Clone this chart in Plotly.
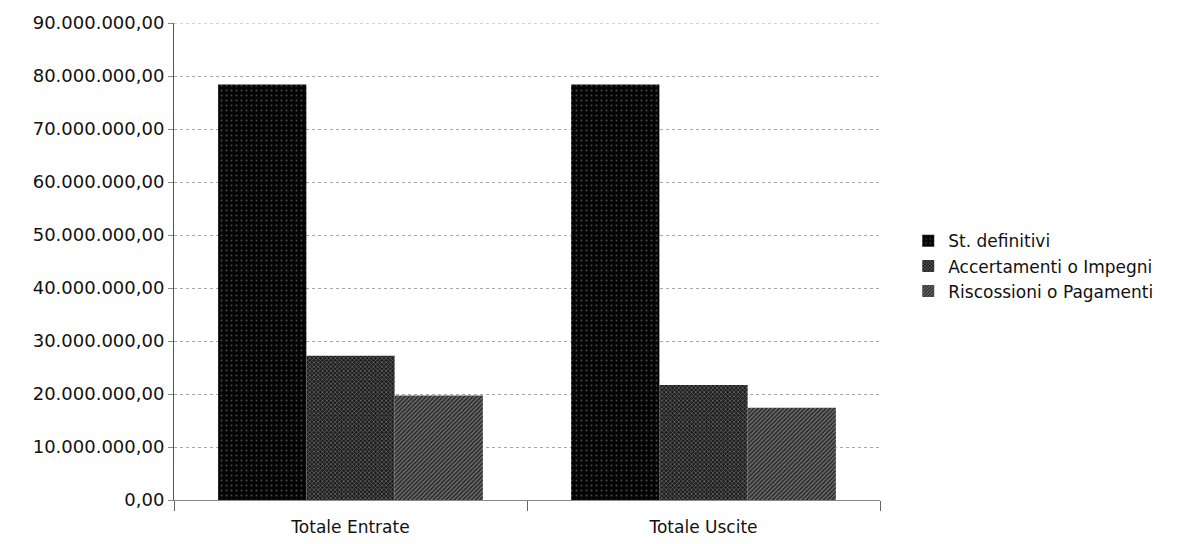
import plotly.graph_objects as go

categories = ["Totale Entrate", "Totale Uscite"]
series_names = ["St. definitivi", "Accertamenti o Impegni", "Riscossioni o Pagamenti"]
st_definitivi = [78_400_000, 78_400_000]
accertamenti_impegni = [27_200_000, 21_700_000]
riscossioni_pagamenti = [19_700_000, 17_400_000]
y_ticks = [0, 10_000_000, 20_000_000, 30_000_000, 40_000_000,
           50_000_000, 60_000_000, 70_000_000, 80_000_000, 90_000_000]

font_family = "DejaVu Sans"
grid_color = "#a8a8a8"

styles = [
    dict(color="#050505", pattern=dict(shape=".", fgcolor="#8a8a8a", bgcolor="#050505",
                                       size=5, solidity=0.12)),
    dict(color="#3a3a3a", pattern=dict(shape="x", fgcolor="#b0b0b0", bgcolor="#1c1c1c",
                                       size=3, solidity=0.45)),
    dict(color="#444444", pattern=dict(shape="/", fgcolor="#b8b8b8", bgcolor="#262626",
                                       size=3, solidity=0.5)),
]

fig = go.Figure()
for name, values, style in zip(series_names,
                               [st_definitivi, accertamenti_impegni, riscossioni_pagamenti],
                               styles):
    fig.add_trace(go.Bar(
        x=categories, y=values, name=name,
        marker=dict(color=style["color"], pattern=style["pattern"], line=dict(width=0)),
        hoverinfo="skip",
    ))

# top gridline sits on the plot edge, so draw it explicitly
fig.add_shape(type="line", xref="paper", x0=0, x1=1, yref="y",
              y0=y_ticks[-1], y1=y_ticks[-1],
              line=dict(color=grid_color, width=1, dash="dot"), layer="below")

fig.update_layout(
    width=1197, height=544,
    margin=dict(l=174, r=317, t=23, b=44),
    paper_bgcolor="white", plot_bgcolor="white",
    separators=",.",
    barmode="group", bargap=0.25, bargroupgap=0,
    font=dict(family=font_family, color="#111111", size=16),
    showlegend=True,
    legend=dict(
        x=1.04, xanchor="left", y=0.49, yanchor="middle",
        font=dict(family=font_family, size=17, color="#111111"),
        itemwidth=30, traceorder="normal",
        bgcolor="rgba(0,0,0,0)",
    ),
    xaxis=dict(
        type="category",
        tickson="boundaries",
        ticks="outside", ticklen=10, tickcolor="#666666",
        showline=True, linecolor="#888888", linewidth=1,
        showgrid=False,
        tickfont=dict(family=font_family, size=17, color="#111111"),
        ticklabelstandoff=12,
        automargin=False,
        range=[-0.5, 1.5],
    ),
    yaxis=dict(
        range=[0, y_ticks[-1]],
        tickvals=y_ticks,
        tickformat=",.2f",
        ticks="outside", ticklen=5, tickcolor="#888888",
        showline=True, linecolor="#555555", linewidth=1,
        showgrid=True, gridcolor=grid_color, griddash="dot", gridwidth=1,
        zeroline=False,
        automargin=False,
        tickfont=dict(family=font_family, size=18, color="#111111"),
    ),
)

fig.write_html("out.html")
